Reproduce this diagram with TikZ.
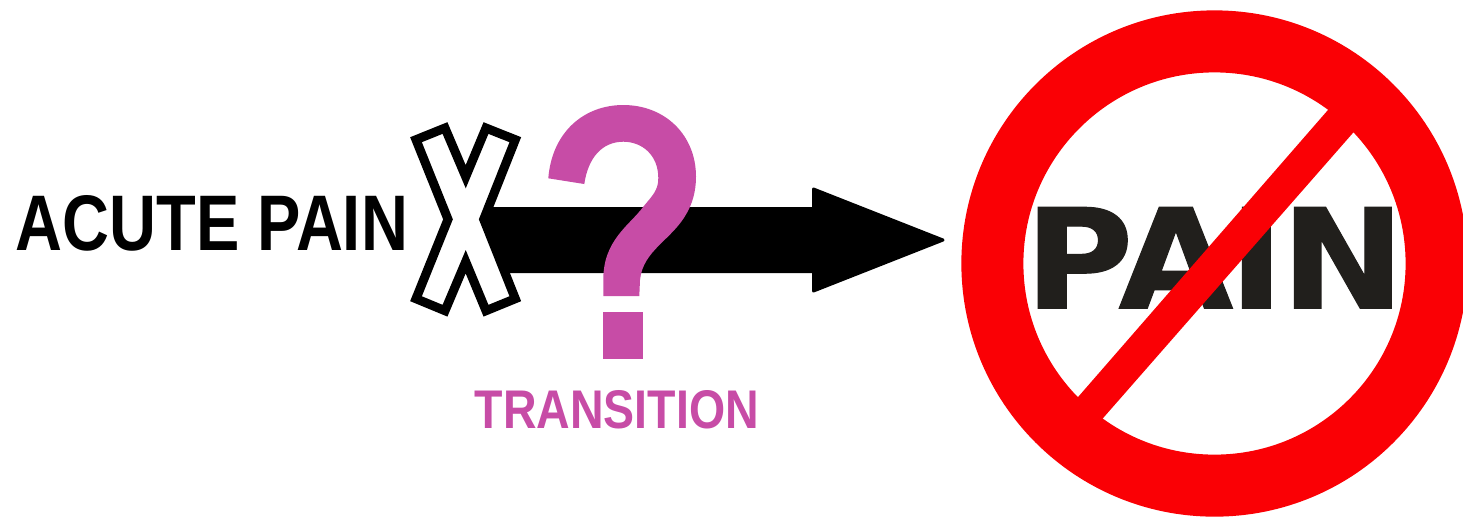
\documentclass[tikz,border=0pt]{standalone}
\usepackage{fontspec}
\setmainfont{Liberation Sans}
\newfontfamily\heavyfont[FakeBold=0.8]{DejaVu Sans Bold}
\definecolor{painred}{rgb}{0.98,0.,0.02}
\definecolor{painblack}{rgb}{0.13,0.12,0.11}
\definecolor{markpink}{rgb}{0.78,0.3,0.65}
\tikzset{
    crosslabel/.style={inner sep=0pt,anchor=south west},
}
\begin{document}
\begin{tikzpicture}[line cap=butt,line join=miter,x=0.01cm,y=-0.01cm]
    \useasboundingbox (0,0) rectangle (1463,517);
    \clip (0,0) rectangle (1463,517);
    \fill [color=white] (0,0) rectangle (1463,517);
    \node [crosslabel] (acute) at (15,252) {\resizebox{3.92cm}{0.55cm}{\bfseries ACUTE PAIN}};
    \filldraw [color=black,line join=round,line width=0.03cm] (480,208.5) -- (813.5,208.5) -- (813.5,189) -- (943,240) -- (813.5,291) -- (813.5,271.5) -- (480,271.5) -- cycle;
    \draw [color=black,fill=white,line width=0.09cm] (416,139.7) -- (445,128) -- (465.7,176.7) -- (486,128) -- (515.3,139.7) -- (483.7,219.3) -- (515.3,298.7) -- (486,310.7) -- (465.7,261.7) -- (445,310.7) -- (416,298.7) -- (448,219.3) -- cycle;
    \fill [color=markpink] (548.3,178.3) .. controls (552,132) and (584,105) .. (623.3,105) .. controls (665,105) and (696,135) .. (696,176.7) .. controls (696,192) and (692,204) .. (686.7,213.3) .. controls (672,240) and (643,250) .. (640,280) -- (639.3,296) -- (603.3,296) -- (603.3,280) .. controls (603,240) and (630,225) .. (643.3,206.7) .. controls (653,195) and (658.3,190) .. (658.3,178) .. controls (658.3,155) and (642,141.7) .. (623.3,141.7) .. controls (602,141.7) and (588,158) .. (584.3,184) -- cycle;
    \fill [color=markpink] (603.3,311.7) rectangle (642.7,359);
    \node [crosslabel,text=markpink] (transition) at (474,430) {\resizebox{2.84cm}{0.38cm}{\bfseries TRANSITION}};
    \node [crosslabel,text=painblack] (pain) at (1024,309) {\resizebox{3.80cm}{1.01cm}{\heavyfont P\kern-.1em A\kern-.03em I\kern-.02em N}};
    \draw [color=painred,line width=0.62cm] (1214.5,263.5) circle (2.22cm);
    \fill [color=painred] (1341,95) -- (1366,118) -- (1090,433) -- (1065,412) -- cycle;
\end{tikzpicture}
\end{document}
